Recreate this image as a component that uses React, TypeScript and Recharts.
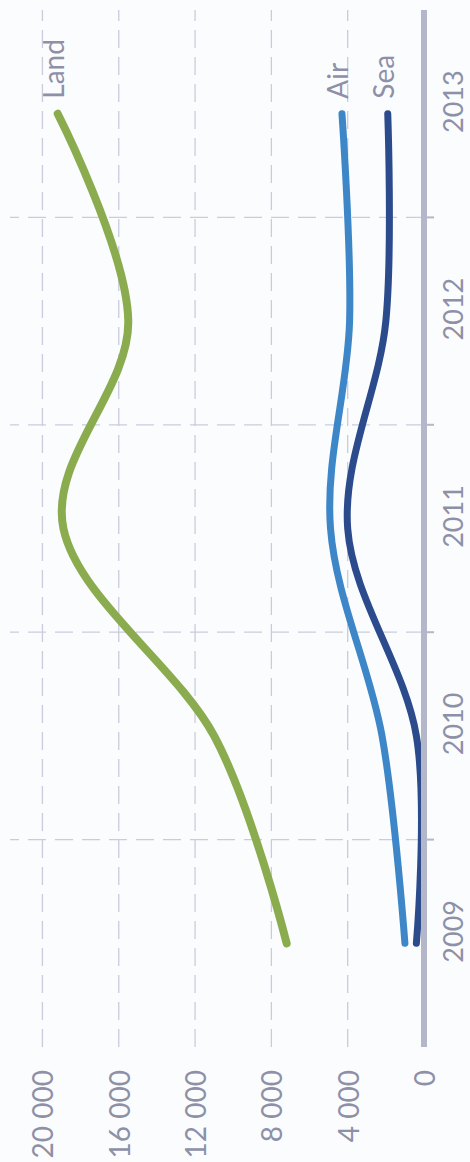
import React from 'react';
import { LineChart, Line, XAxis, YAxis, ReferenceLine, LabelList } from 'recharts';

// ---- data ----
const years = ['2009', '2010', '2011', '2012', '2013'];
const land = [7200, 11000, 18900, 15500, 19200];
const air = [1000, 2200, 4900, 3900, 4300];
const sea = [400, 400, 4000, 2000, 1900];
const seriesNames = { land: 'Land', air: 'Air', sea: 'Sea' };
const yTicks = [0, 4000, 8000, 12000, 16000, 20000];
const yMax = 21700;

const rows = years.map((y, i) => ({ idx: i, year: y, land: land[i], air: air[i], sea: sea[i] }));
const yearTicks = years.map((_, i) => i);
const boundaryTicks = years.slice(1).map((_, i) => i + 0.5);
const allXTicks = [...yearTicks, ...boundaryTicks].sort((a, b) => a - b);

// ---- layout / style ----
const W = 1162;
const H = 470;
const X_AXIS_H = 46;
const Y_AXIS_W = 115;
const PLOT_BOTTOM = H - X_AXIS_H;
const FONT = 'Lato, "Open Sans", sans-serif';
const TEXT = '#8d90a7';
const GRID = '#c9ccdd';
const AXIS = '#b4b6ca';
const COLORS = { land: '#8aac4f', air: '#3d87c9', sea: '#2c4b8d' };

// cardinal (Catmull-Rom-like) curve factory, Excel-style smoothing
function curvePoint(that: any, x: number, y: number) {
  that._context.bezierCurveTo(
    that._x1 + that._k * (that._x2 - that._x0),
    that._y1 + that._k * (that._y2 - that._y0),
    that._x2 + that._k * (that._x1 - x),
    that._y2 + that._k * (that._y1 - y),
    that._x2,
    that._y2
  );
}
class Cardinal {
  _context: any; _k: number; _line: number = NaN; _point = 0;
  _x0 = NaN; _x1 = NaN; _x2 = NaN; _y0 = NaN; _y1 = NaN; _y2 = NaN;
  constructor(context: any, tension: number) { this._context = context; this._k = (1 - tension) / 6; }
  areaStart() { this._line = 0; }
  areaEnd() { this._line = NaN; }
  lineStart() { this._x0 = this._x1 = this._x2 = this._y0 = this._y1 = this._y2 = NaN; this._point = 0; }
  lineEnd() {
    switch (this._point) {
      case 2: this._context.lineTo(this._x2, this._y2); break;
      case 3: curvePoint(this, this._x1, this._y1); break;
    }
    if (this._line || (this._line !== 0 && this._point === 1)) this._context.closePath();
    this._line = 1 - this._line;
  }
  point(x: number, y: number) {
    x = +x; y = +y;
    switch (this._point) {
      case 0: this._point = 1; this._line ? this._context.lineTo(x, y) : this._context.moveTo(x, y); break;
      case 1: this._point = 2; this._x1 = x; this._y1 = y; break;
      case 2: this._point = 3; curvePoint(this, x, y); break;
      default: curvePoint(this, x, y); break;
    }
    this._x0 = this._x1; this._x1 = this._x2; this._x2 = x;
    this._y0 = this._y1; this._y1 = this._y2; this._y2 = y;
  }
}
const smoothCurve: any = (context: any) => new Cardinal(context, 0);

const fmt = (v: number) => String(v).replace(/\B(?=(\d{3})+(?!\d))/g, ' ');

const YTick = (props: any) => {
  const { y, payload } = props;
  return (
    <text x={Y_AXIS_W - 23} y={y} textAnchor="end" dominantBaseline="central" fill={TEXT} fontSize={28} fontFamily={FONT}>
      {fmt(payload.value)}
    </text>
  );
};

const XTick = (props: any) => {
  const { x, payload } = props;
  const v = payload.value;
  if (Number.isInteger(v)) {
    return (
      <text x={x + 12} y={PLOT_BOTTOM + 28} textAnchor="middle" dominantBaseline="central" fill={TEXT} fontSize={27} fontFamily={FONT}>
        {years[v]}
      </text>
    );
  }
  return <line x1={x} x2={x} y1={PLOT_BOTTOM} y2={PLOT_BOTTOM + 10} stroke={AXIS} strokeWidth={2} />;
};

const endLabel = (name: string) => (props: any) => {
  const { index } = props;
  if (index !== years.length - 1) return null;
  const x = props.x ?? props.viewBox?.x;
  const y = props.y ?? props.viewBox?.y;
  return (
    <text x={x + 15} y={y - 5} textAnchor="start" dominantBaseline="central" fill={TEXT} fontSize={28} fontFamily={FONT}>
      {name}
    </text>
  );
};

function Chart() {
  return (
    <LineChart width={W} height={H} data={rows} margin={{ top: 10, right: 10, left: 0, bottom: 0 }}>
      <XAxis
        type="number"
        dataKey="idx"
        domain={[-0.5, years.length - 0.5]}
        ticks={allXTicks}
        interval={0}
        allowDecimals
        height={X_AXIS_H}
        axisLine={{ stroke: AXIS, strokeWidth: 6 }}
        tickLine={false}
        tick={<XTick />}
      />
      <YAxis
        type="number"
        domain={[0, yMax]}
        ticks={yTicks}
        interval={0}
        width={Y_AXIS_W}
        axisLine={false}
        tickLine={false}
        tick={<YTick />}
      />
      {yTicks.filter((t) => t > 0).map((t) => (
        <ReferenceLine key={'y' + t} y={t} stroke={GRID} strokeDasharray="18 9" strokeWidth={1.3} />
      ))}
      {boundaryTicks.map((b) => (
        <ReferenceLine key={'x' + b} x={b} stroke={GRID} strokeDasharray="18 9" strokeWidth={1.3} />
      ))}
      <Line dataKey="sea" type={smoothCurve} stroke={COLORS.sea} strokeWidth={7} strokeLinecap="round" dot={false} activeDot={false} isAnimationActive={false}>
        <LabelList dataKey="sea" content={endLabel(seriesNames.sea)} />
      </Line>
      <Line dataKey="air" type={smoothCurve} stroke={COLORS.air} strokeWidth={7} strokeLinecap="round" dot={false} activeDot={false} isAnimationActive={false}>
        <LabelList dataKey="air" content={endLabel(seriesNames.air)} />
      </Line>
      <Line dataKey="land" type={smoothCurve} stroke={COLORS.land} strokeWidth={8} strokeLinecap="round" dot={false} activeDot={false} isAnimationActive={false}>
        <LabelList dataKey="land" content={endLabel(seriesNames.land)} />
      </Line>
    </LineChart>
  );
}

export default function App() {
  return (
    <div style={{ position: 'absolute', left: 0, top: 0, width: 470, height: 1162, overflow: 'hidden', background: '#fbfcfe' }}>
      <div
        style={{
          position: 'absolute',
          left: 0,
          top: 0,
          width: W,
          height: H,
          transformOrigin: '0 0',
          transform: `translate(0px, ${W}px) rotate(-90deg)`,
        }}
      >
        <Chart />
      </div>
    </div>
  );
}
